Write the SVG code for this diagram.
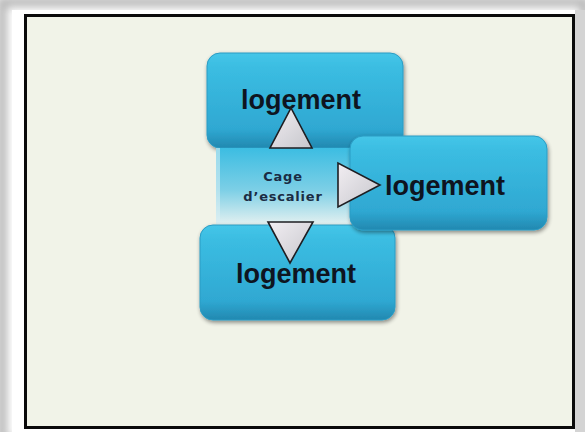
<svg xmlns="http://www.w3.org/2000/svg" width="585" height="432" viewBox="0 0 585 432">
  <defs>
    <linearGradient id="boxg" x1="0" y1="0" x2="0" y2="1">
      <stop offset="0" stop-color="#45c6e8"/>
      <stop offset="0.15" stop-color="#3bbde2"/>
      <stop offset="0.8" stop-color="#2fa8d2"/>
      <stop offset="1" stop-color="#2288b0"/>
    </linearGradient>
    <linearGradient id="cageg" x1="0" y1="0" x2="0" y2="1">
      <stop offset="0" stop-color="#3cbde2"/>
      <stop offset="0.55" stop-color="#7ccfe6"/>
      <stop offset="1" stop-color="#e2f0f0"/>
    </linearGradient>
    <linearGradient id="trig" x1="0" y1="0" x2="1" y2="1">
      <stop offset="0" stop-color="#f2eef2"/>
      <stop offset="1" stop-color="#c6c6cc"/>
    </linearGradient>
    <filter id="sh" x="-10%" y="-10%" width="125%" height="130%">
      <feGaussianBlur in="SourceAlpha" stdDeviation="2"/>
      <feOffset dx="1" dy="2" result="b"/>
      <feComponentTransfer><feFuncA type="linear" slope="0.45"/></feComponentTransfer>
      <feMerge><feMergeNode/><feMergeNode in="SourceGraphic"/></feMerge>
    </filter>
    <filter id="frame" x="-5%" y="-5%" width="110%" height="110%">
      <feGaussianBlur stdDeviation="4"/>
    </filter>
    <style>
      .box { fill: url(#boxg); stroke: #2a9cc4; stroke-width: 1; filter: url(#sh); }
      .lbl { font-family: "Liberation Sans", Arial, sans-serif; font-weight: bold; font-size: 27px; fill: #0e1420; text-anchor: middle; }
      .cage { font-family: "DejaVu Sans", Verdana, sans-serif; font-weight: bold; font-size: 13px; fill: #1a2c44; text-anchor: middle; letter-spacing: 0.8px; }
      .tri { fill: url(#trig); stroke: #1e1e22; stroke-width: 1.6; stroke-linejoin: miter; }
    </style>
  </defs>

  <!-- page frame -->
  <rect x="0" y="0" width="585" height="432" fill="#ffffff"/>
  <rect x="2" y="2" width="583" height="440" fill="none" stroke="#b8b8b8" stroke-width="10" filter="url(#frame)"/>
  <rect x="12" y="10" width="573" height="422" fill="#ffffff"/>
  <rect x="575" y="10" width="10" height="422" fill="#d4d4d4"/>
  <rect x="25.5" y="15.5" width="548" height="412" fill="#f1f3e8" stroke="#0a0a0a" stroke-width="3"/>

  <g id="node-top">
    <rect class="box" x="207" y="53" width="196" height="95" rx="13"/>
    <text class="lbl" x="301" y="109">logement</text>
  </g>

  <g id="node-cage">
    <rect x="216" y="148" width="136" height="76" fill="url(#cageg)"/>
    <rect x="216" y="148" width="4" height="76" fill="#d8eef4" opacity="0.6"/>
    <text class="cage" x="283" y="181">Cage</text>
    <text class="cage" x="283" y="201">d’escalier</text>
  </g>

  <g id="node-bottom">
    <rect class="box" x="200" y="225" width="195" height="95" rx="13"/>
    <text class="lbl" x="296" y="283">logement</text>
  </g>

  <g id="node-right">
    <rect class="box" x="350" y="136" width="197" height="94" rx="13"/>
    <text class="lbl" x="445" y="195">logement</text>
  </g>

  <g id="connectors">
    <polygon class="tri" points="270,148 312,148 291,108"/>
    <polygon class="tri" points="268,222 313,222 290,263"/>
    <polygon class="tri" points="338,163 338,207 380,185"/>
  </g>
</svg>
